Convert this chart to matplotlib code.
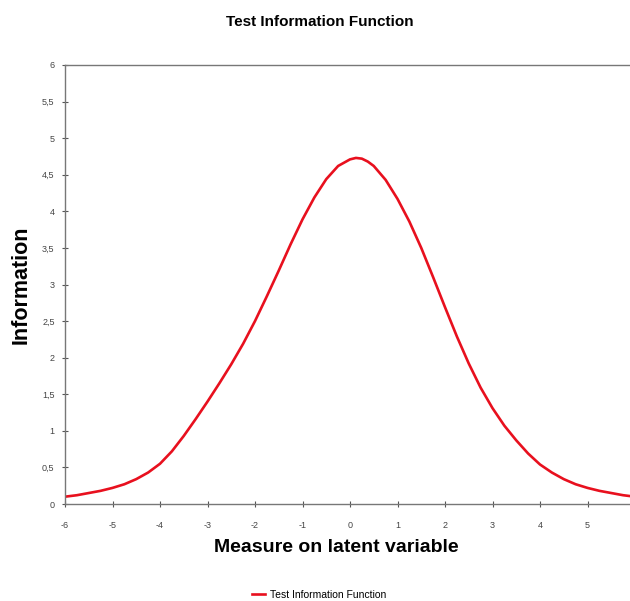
import matplotlib.pyplot as plt
from matplotlib.ticker import FuncFormatter

plt.rcParams['font.family'] = ['Liberation Sans', 'DejaVu Sans']
plt.rcParams['axes.unicode_minus'] = False

# values
theta = [-6, -5.75, -5.5, -5.25, -5, -4.75, -4.5, -4.25, -4, -3.75, -3.5, -3.25,
         -3, -2.75, -2.5, -2.25, -2, -1.75, -1.5, -1.25, -1, -0.75, -0.5, -0.25,
         0, 0.125, 0.25, 0.375, 0.5, 0.75, 1, 1.25, 1.5, 1.75, 2, 2.25, 2.5,
         2.75, 3, 3.25, 3.5, 3.75, 4, 4.25, 4.5, 4.75, 5, 5.25, 5.5, 5.75, 6]
info = [0.10, 0.12, 0.15, 0.18, 0.22, 0.27, 0.34, 0.43, 0.55, 0.72, 0.93, 1.16,
        1.40, 1.65, 1.91, 2.19, 2.50, 2.84, 3.19, 3.55, 3.89, 4.19, 4.44, 4.62,
        4.71, 4.73, 4.72, 4.68, 4.62, 4.43, 4.17, 3.86, 3.50, 3.10, 2.69, 2.29,
        1.92, 1.59, 1.31, 1.07, 0.87, 0.69, 0.54, 0.43, 0.34, 0.27, 0.22, 0.18,
        0.15, 0.12, 0.10]
x_ticks = list(range(-6, 7))
x_labels = [str(v) for v in range(-6, 6)] + ['']
y_ticks = [0, 0.5, 1, 1.5, 2, 2.5, 3, 3.5, 4, 4.5, 5, 5.5, 6]

fig = plt.figure(figsize=(6.3, 6.01), dpi=100)
ax = fig.add_axes([65 / 630, 97 / 601, 570 / 630, 439 / 601])

line, = ax.plot(theta, info, color='#e8101e', lw=1.9, label='Test Information Function')

ax.set_xlim(-6, 6)
ax.set_ylim(0, 6)
ax.set_xticks(x_ticks)
ax.set_xticklabels(x_labels)
ax.set_yticks(y_ticks)
ax.yaxis.set_major_formatter(FuncFormatter(lambda v, p: ('%g' % v).replace('.', ',')))
ax.tick_params(direction='inout', length=5, width=0.8, colors='#555555',
               labelsize=6.5, labelcolor='#444444', pad=5)
ax.tick_params(axis='x', pad=10)
for s in ax.spines.values():
    s.set_color('#777777')
    s.set_linewidth(1.0)

ax.set_xlabel('Measure on latent variable', fontsize=14, fontweight='bold')
ax.xaxis.set_label_coords((336 - 65) / 570, -(548 - 504) / 439)
ax.xaxis.label.set_va('center')
ax.set_ylabel('Information', fontsize=15.5, fontweight='bold')
ax.yaxis.set_label_coords(-(65 - 21) / 570, (504 - 285) / 439)
ax.yaxis.label.set_va('center')

fig.text(320 / 630, 1 - 22 / 601, 'Test Information Function', ha='center', va='center',
         fontsize=11, fontweight='bold')

fig.legend(handles=[line], loc='center', bbox_to_anchor=(319 / 630, 1 - 595 / 601),
           frameon=False, fontsize=7.5, handlelength=1.2, handletextpad=0.5)

fig.savefig('out.png', dpi=100)
